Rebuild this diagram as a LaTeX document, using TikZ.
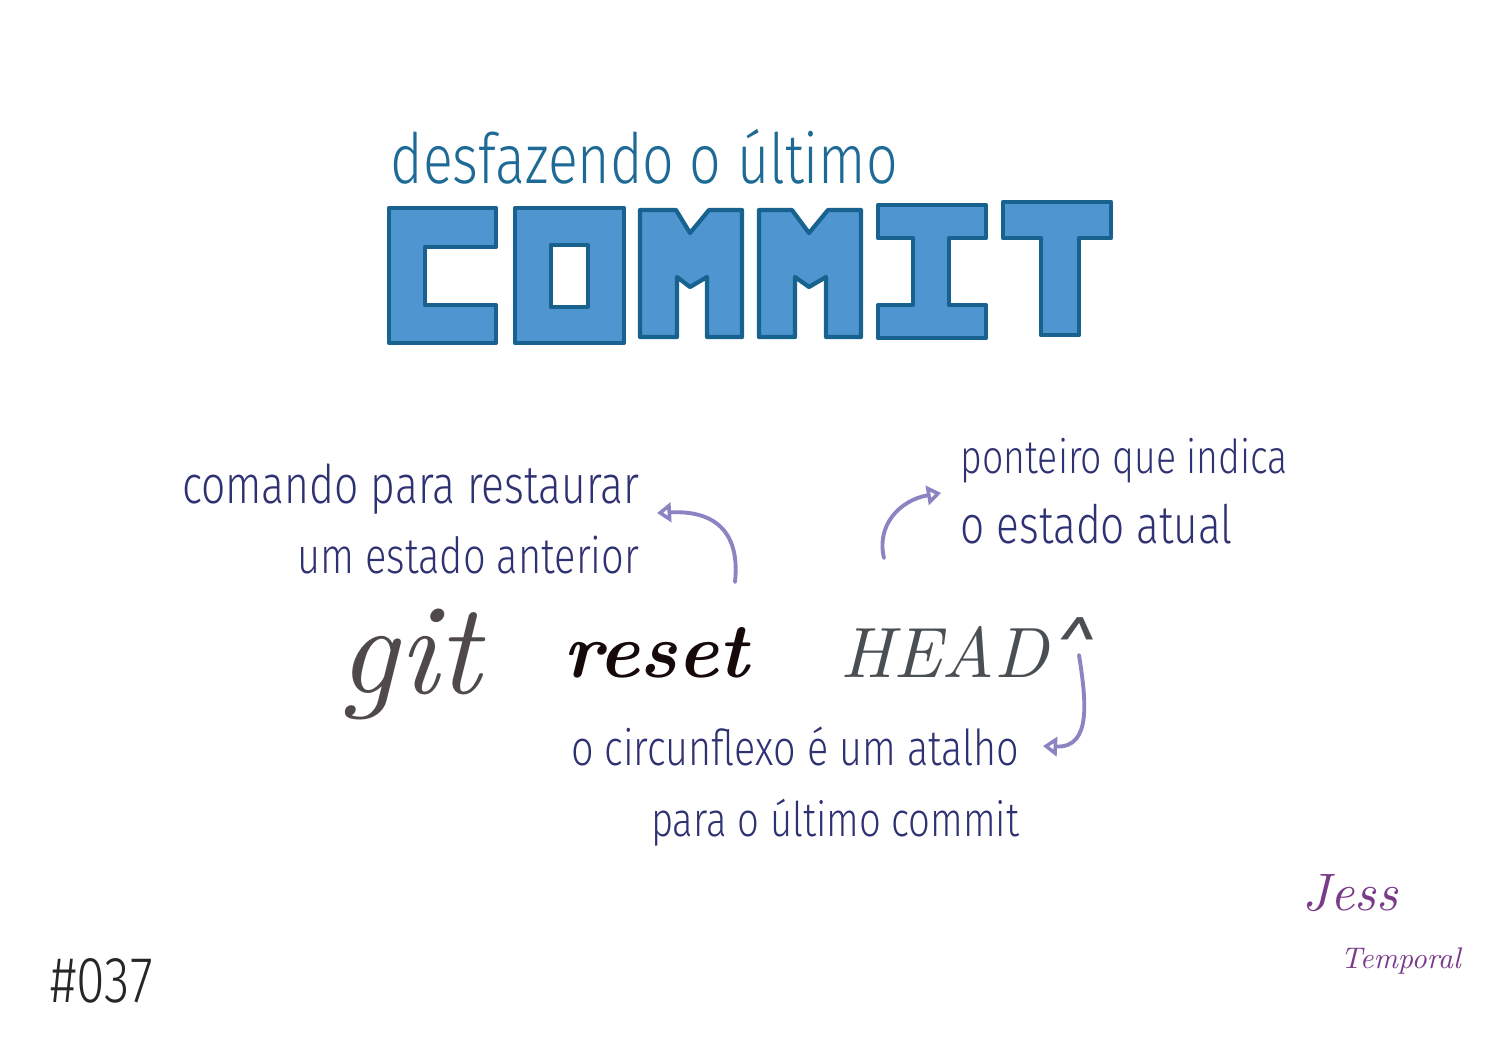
\documentclass[tikz,border=0pt]{standalone}
\usepackage{fontspec}
\usepackage{graphicx}
\usetikzlibrary{arrows.meta}
\newfontfamily\hand[FakeStretch=0.8]{Fira Sans Light}
\newfontfamily\caretfont{Fira Sans}
\definecolor{ttl}{HTML}{1D6A96}
\definecolor{cfill}{HTML}{4F95CF}
\definecolor{cline}{HTML}{17628F}
\definecolor{note}{HTML}{2F3272}
\definecolor{arr}{HTML}{8A84C2}
\definecolor{sig}{HTML}{7A3A8A}
\definecolor{gitc}{HTML}{4F4949}
\definecolor{resetc}{HTML}{150909}
\definecolor{headc}{HTML}{4A4F53}
\begin{document}
\begin{tikzpicture}[x=0.01cm,y=-0.01cm,
  block/.style={fill=cfill,draw=cline,line width=1.2pt,line join=round},
  notetext/.style={text=note,inner sep=0pt,font=\hand},
  arrowline/.style={draw=arr,line width=1.1pt,line cap=round,
    -{Triangle[open,length=4pt,width=5.5pt,line width=1.1pt]}},
  sigtext/.style={inner sep=0pt,text=sig,font=\itshape}]
\useasboundingbox[fill=white] (0,0) rectangle (1500,1060);

% title
\node[inner sep=0pt,anchor=base west,text=ttl,font=\hand] (title) at (390,183)
  {\resizebox{5.07cm}{!}{desfazendo o último}};

% COMMIT letters
\path[block] (389,208) -- (496,208) -- (496,247) -- (425,247) -- (425,305)
  -- (496,305) -- (496,343) -- (389,343) -- cycle;
\path[block,even odd rule] (515,208) -- (624,208) -- (624,343) -- (515,343) -- cycle
  (551,245) -- (588,245) -- (588,307) -- (551,307) -- cycle;
\path[block] (640,210) -- (676,210) -- (690,233) -- (709,210) -- (742,210)
  -- (742,337) -- (707,337) -- (707,277) -- (690,287) -- (677,277)
  -- (677,337) -- (640,337) -- cycle;
\path[block] (759,210) -- (792,210) -- (809,233) -- (828,210) -- (861,210)
  -- (861,337) -- (826,337) -- (826,277) -- (809,287) -- (795,277)
  -- (795,337) -- (759,337) -- cycle;
\path[block] (878,205) -- (986,205) -- (986,238) -- (949,238) -- (949,305)
  -- (986,305) -- (986,338) -- (878,338) -- (878,305) -- (913,305)
  -- (913,238) -- (878,238) -- cycle;
\path[block] (1003,202) -- (1111,202) -- (1111,238) -- (1079,238) -- (1079,335)
  -- (1041,335) -- (1041,238) -- (1003,238) -- cycle;

% notes
\node[notetext,anchor=base east] (n1a) at (640,503)
  {\resizebox{4.57cm}{!}{comando para restaurar}};
\node[notetext,anchor=base east] (n1b) at (640,573)
  {\resizebox{3.42cm}{!}{um estado anterior}};
\node[notetext,anchor=base west] (n2a) at (960,473)
  {\resizebox{3.27cm}{!}{ponteiro que indica}};
\node[notetext,anchor=base west] (n2b) at (960,543)
  {\resizebox{2.72cm}{!}{o estado atual}};
\node[notetext,anchor=base east] (n3a) at (1020,765)
  {\resizebox{4.48cm}{!}{o circunflexo é um atalho}};
\node[notetext,anchor=base east] (n3b) at (1020,836)
  {\resizebox{3.68cm}{!}{para o último commit}};

% command
\node[inner sep=0pt,anchor=base west,text=gitc] (git) at (338,693)
  {\resizebox{1.42cm}{!}{\itshape git}};
\node[inner sep=0pt,anchor=base west,text=resetc] (reset) at (563,677)
  {\resizebox{1.85cm}{!}{\bfseries\itshape reset}};
\node[inner sep=0pt,anchor=base west,text=headc] (head) at (840,677)
  {\resizebox{2.53cm}{!}{\itshape HEAD\kern1pt{\caretfont\string^}}};

% arrows
\coordinate (a1s) at (735,582);
\coordinate (a1e) at (657,513);
\draw[arrowline] (a1s) .. controls (740,535) and (718,510) .. (a1e);
\coordinate (a2s) at (884,558);
\coordinate (a2e) at (941,493);
\draw[arrowline] (a2s) .. controls (876,525) and (900,500) .. (a2e);
\coordinate (a3s) at (1079,655);
\coordinate (a3e) at (1043,746);
\draw[arrowline] (a3s) .. controls (1086,700) and (1092,748) .. (a3e);

% number
\node[inner sep=0pt,anchor=base west,text=black!85,font=\hand] (num) at (50,1002)
  {\resizebox{1.02cm}{!}{\#037}};

% signature
\node[sigtext,anchor=base west] (sig1) at (1302,910) {\resizebox{0.95cm}{!}{Jess}};
\node[sigtext,anchor=base west] (sig2) at (1340,968) {\resizebox{1.2cm}{!}{Temporal}};
\end{tikzpicture}
\end{document}
